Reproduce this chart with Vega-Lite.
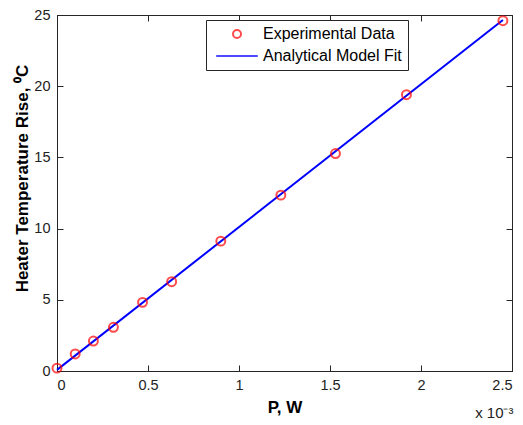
{
  "$schema": "https://vega.github.io/schema/vega-lite/v6.json",
  "width": 455,
  "height": 356,
  "autosize": {"type": "none"},
  "padding": {"left": 57, "top": 15, "right": 11, "bottom": 54},
  "background": "white",
  "config": {
    "font": "Liberation Sans",
    "view": {"stroke": "#262626", "strokeWidth": 1},
    "axis": {
      "grid": false,
      "domainColor": "#262626",
      "tickColor": "#262626",
      "tickSize": -6,
      "labelFont": "Liberation Sans",
      "labelFontSize": 14.5,
      "labelColor": "#222",
      "titleFont": "Liberation Sans",
      "titleFontSize": 17,
      "titleFontWeight": "bold",
      "titleColor": "#000"
    }
  },
  "data": {
    "values": [
      {"P": 0.0, "T": 0.2, "series": "Experimental Data"},
      {"P": 0.0001, "T": 1.2, "series": "Experimental Data"},
      {"P": 0.0002, "T": 2.1, "series": "Experimental Data"},
      {"P": 0.00031, "T": 3.07, "series": "Experimental Data"},
      {"P": 0.00047, "T": 4.82, "series": "Experimental Data"},
      {"P": 0.00063, "T": 6.27, "series": "Experimental Data"},
      {"P": 0.0009, "T": 9.12, "series": "Experimental Data"},
      {"P": 0.00123, "T": 12.35, "series": "Experimental Data"},
      {"P": 0.00153, "T": 15.27, "series": "Experimental Data"},
      {"P": 0.00192, "T": 19.4, "series": "Experimental Data"},
      {"P": 0.00245, "T": 24.6, "series": "Experimental Data"},
      {"P": 0.0, "T": 0.08, "series": "Analytical Model Fit"},
      {"P": 0.00245, "T": 24.65, "series": "Analytical Model Fit"}
    ]
  },
  "resolve": {"axis": {"x": "independent", "y": "independent"}},
  "layer": [
    {
      "transform": [{"filter": "datum.series === 'Analytical Model Fit'"}],
      "mark": {"type": "line", "color": "#0000ff", "strokeWidth": 2},
      "encoding": {
        "x": {"field": "P", "type": "quantitative", "scale": {"domain": [0, 0.0025], "nice": false},
          "axis": {"orient": "top", "labels": false, "title": null, "values": [0, 0.0005, 0.001, 0.0015, 0.002, 0.0025]}},
        "y": {"field": "T", "type": "quantitative", "scale": {"domain": [0, 25], "nice": false},
          "axis": {"orient": "right", "labels": false, "title": null, "values": [0, 5, 10, 15, 20, 25]}},
        "color": {"field": "series", "type": "nominal",
          "scale": {"domain": ["Experimental Data", "Analytical Model Fit"], "range": ["#ff0000", "#0000ff"]}}
      }
    },
    {
      "transform": [{"filter": "datum.series === 'Experimental Data'"}],
      "mark": {"type": "point", "filled": false, "strokeWidth": 2, "size": 80},
      "encoding": {
        "x": {"field": "P", "type": "quantitative",
          "axis": {"orient": "bottom", "title": "P, W", "titlePadding": 8,
            "values": [0, 0.0005, 0.001, 0.0015, 0.002, 0.0025],
            "labelExpr": "format(datum.value * 1000, '~g')", "labelPadding": 13}},
        "y": {"field": "T", "type": "quantitative",
          "axis": {"orient": "left", "title": "Heater Temperature Rise, ⁰C", "titlePadding": 2, "titleY": 163,
            "values": [0, 5, 10, 15, 20, 25], "labelPadding": 13}},
        "color": {"field": "series", "type": "nominal",
          "legend": {
            "title": null, "orient": "none", "legendX": 149, "legendY": 5,
            "fillColor": "white", "strokeColor": "#262626",
            "padding": 6, "symbolSize": 64, "symbolStrokeWidth": 2, "symbolOffset": 17,
            "labelOffset": 18, "labelFont": "Liberation Sans", "labelFontSize": 16, "labelColor": "#000",
            "rowPadding": 6
          }},
        "shape": {"field": "series", "type": "nominal",
          "scale": {"domain": ["Experimental Data", "Analytical Model Fit"], "range": ["circle", "M-5.2,0H5.2"]}}
      }
    },
    {
      "transform": [{"filter": "datum.series === 'Analytical Model Fit'"}],
      "mark": {"type": "point", "opacity": 0},
      "encoding": {
        "x": {"field": "P", "type": "quantitative",
          "axis": {"orient": "bottom", "labels": false, "ticks": false, "domain": false,
            "title": "x 10⁻³", "titleFontWeight": "normal", "titleFontSize": 15, "titleColor": "#222",
            "titleAlign": "right", "titleBaseline": "middle", "titleAnchor": null, "titleX": 456, "titleY": 41}},
        "y": {"field": "T", "type": "quantitative", "axis": null}
      }
    }
  ]
}
